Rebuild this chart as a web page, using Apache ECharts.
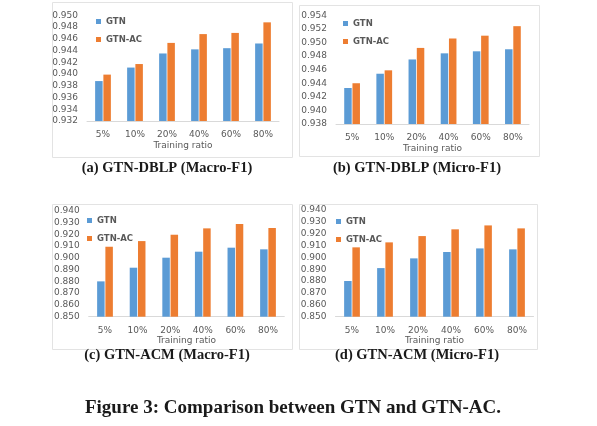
<!DOCTYPE html>
<html><head><meta charset="utf-8">
<script src="https://cdn.jsdelivr.net/npm/echarts@6/dist/echarts.min.js"></script>
<style>html,body{margin:0;padding:0;background:#fff}#c{width:597px;height:426px}</style>
</head><body><div id="c"></div>
<script>
const categories = ['5%','10%','20%','40%','60%','80%'];
const seriesNames = ['GTN','GTN-AC'];
const dblpMacroGTN   = [0.9388,0.9411,0.9435,0.9442,0.9444,0.9452];
const dblpMacroGTNAC = [0.9399,0.9417,0.9453,0.9468,0.9470,0.9488];
const dblpMicroGTN   = [0.9433,0.9454,0.9475,0.9484,0.9487,0.9490];
const dblpMicroGTNAC = [0.9440,0.9459,0.9492,0.9506,0.9510,0.9524];
const acmMacroGTN    = [0.8800,0.8916,0.9001,0.9052,0.9086,0.9072];
const acmMacroGTNAC  = [0.9094,0.9142,0.9196,0.9250,0.9287,0.9253];
const acmMicroGTN    = [0.8801,0.8910,0.8992,0.9046,0.9076,0.9068];
const acmMicroGTNAC  = [0.9085,0.9127,0.9180,0.9237,0.9270,0.9245];
const xAxisName = 'Training ratio';
const subCaptions = ['(a) GTN-DBLP (Macro-F1)','(b) GTN-DBLP (Micro-F1)','(c) GTN-ACM (Macro-F1)','(d) GTN-ACM (Micro-F1)'];
const figureCaption = 'Figure 3: Comparison between GTN and GTN-AC.';
const yRanges = [[0.932,0.950,0.002],[0.938,0.954,0.002],[0.850,0.940,0.010],[0.850,0.940,0.010]];
const panels = [[dblpMacroGTN,dblpMacroGTNAC],[dblpMicroGTN,dblpMicroGTNAC],[acmMacroGTN,acmMacroGTNAC],[acmMicroGTN,acmMicroGTNAC]];

const W=597,H=426;
const grids = [
  {left:87, right:W-279, top:15.3, bottom:H-121},
  {left:336, right:W-529, top:15.3, bottom:H-124},
  {left:88.7, right:W-284.3, top:210.7, bottom:H-316.7},
  {left:335.5, right:W-533.5, top:210, bottom:H-316.7}
];
const legendPos = [[91,12],[338,14],[82,211],[331,212]];
const nameGaps = [20,20,19,19];
const colors = ['#5B9BD5','#ED7D31'];
const labelColor = '#595959';
const font = 'DejaVu Sans';

const xAxis=[],yAxis=[],series=[],legend=[];
panels.forEach((p,i)=>{
  xAxis.push({type:'category',gridIndex:i,data:categories,
    axisLine:{lineStyle:{color:'#d9d9d9'}},axisTick:{show:false},
    axisLabel:{color:labelColor,fontSize:9,fontFamily:font,margin:9},
    name:xAxisName,nameLocation:'middle',nameGap:nameGaps[i],
    nameTextStyle:{color:labelColor,fontSize:9,fontFamily:font}});
  yAxis.push({type:'value',gridIndex:i,min:yRanges[i][0],max:yRanges[i][1],interval:yRanges[i][2],
    axisLine:{show:false},axisTick:{show:false},splitLine:{show:false},
    axisLabel:{color:labelColor,fontSize:9,fontFamily:font,margin:9,formatter:v=>v.toFixed(3)}});
  p.forEach((d,k)=>{
    series.push({type:'bar',name:seriesNames[k],xAxisIndex:i,yAxisIndex:i,data:d,
      barWidth:7.5,barGap:'10%',itemStyle:{color:colors[k]}});
  });
  legend.push({left:legendPos[i][0],top:legendPos[i][1],orient:'vertical',itemWidth:5,itemHeight:5,itemGap:9,
    icon:'rect',data:seriesNames,textStyle:{color:labelColor,fontSize:8.5,fontFamily:font,fontWeight:'bold'}});
});

const boxes=[[50,0,240,155],[297,3,240,151],[50,202,240,145],[297,202,238,145]];
const graphic=[];
boxes.forEach(b=>graphic.push({type:'rect',left:b[0],top:b[1],shape:{width:b[2],height:b[3]},style:{fill:null,stroke:'#e3e3e3',lineWidth:1},z:-1}));
const capPos=[[167,168],[417,168],[167,355],[417,355]];
subCaptions.forEach((t,i)=>graphic.push({type:'text',x:capPos[i][0],y:capPos[i][1],style:{text:t,fill:'#1a1a1a',font:'bold 14.5px "Liberation Serif"',textAlign:'center',textVerticalAlign:'middle'}}));
graphic.push({type:'text',x:293,y:408,style:{text:figureCaption,fill:'#1a1a1a',font:'bold 19px "Liberation Serif"',textAlign:'center',textVerticalAlign:'middle'}});

const chart=echarts.init(document.getElementById('c'),null,{renderer:'canvas'});
chart.setOption({animation:false,backgroundColor:'#fff',grid:grids,xAxis,yAxis,series,legend,graphic});
</script></body></html>
